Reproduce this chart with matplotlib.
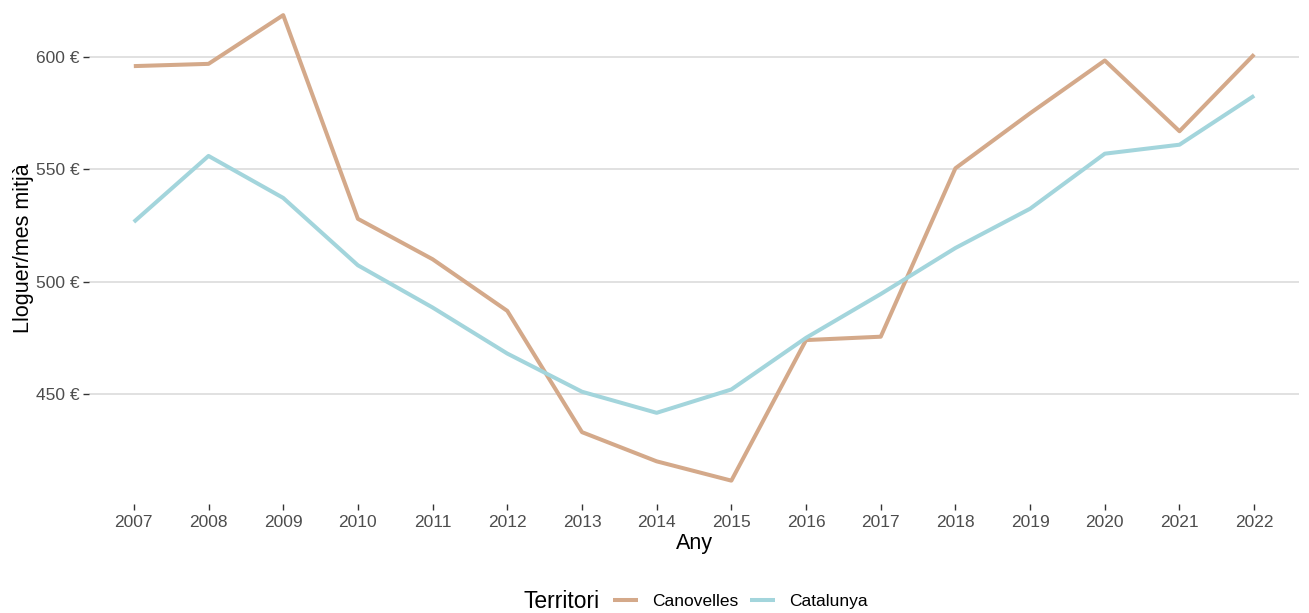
import matplotlib.pyplot as plt
from matplotlib.ticker import FuncFormatter

plt.rcParams['font.family'] = ['Liberation Sans', 'DejaVu Sans']

# data
anys = [2007, 2008, 2009, 2010, 2011, 2012, 2013, 2014,
        2015, 2016, 2017, 2018, 2019, 2020, 2021, 2022]
canovelles = [596, 597, 618.7, 528, 510, 487, 433, 420,
              411.4, 474, 475.5, 550.5, 575, 598.5, 567, 601.2]
catalunya = [526.6, 556, 537.3, 507.3, 488.5, 468, 451, 441.6,
             452, 475, 494.5, 515, 532.5, 557, 561, 582.8]
territoris = ['Canovelles', 'Catalunya']
colors = ['#D4A98A', '#A3D5DC']

W, H = 1309, 613
fig = plt.figure(figsize=(W / 100, H / 100), dpi=100)
ax = fig.add_axes([89 / W, (H - 504) / H, 1210 / W, 512 / H])

for name, vals, c in zip(territoris, [canovelles, catalunya], colors):
    ax.plot(anys, vals, color=c, lw=2.9, label=name, solid_capstyle='butt')

ax.set_xlim(anys[0] - 0.6, anys[-1] + 0.6)
ax.set_ylim(401, 629)
ax.set_xticks(anys)
ax.set_yticks([450, 500, 550, 600])
ax.yaxis.set_major_formatter(FuncFormatter(lambda v, p: f"{v:.0f} €"))

ax.grid(axis='y', color='#D9D9D9', lw=1.1)
ax.set_axisbelow(True)
for s in ax.spines.values():
    s.set_visible(False)
ax.tick_params(axis='both', colors='#333333', labelcolor='#4D4D4D',
               labelsize=12.5, length=4, width=1)
ax.tick_params(axis='x', pad=4)
ax.tick_params(axis='y', pad=3)

ax.set_xlabel('Any', fontsize=15.5, labelpad=2)
ax.set_ylabel('Lloguer/mes mitjà', fontsize=15.5, labelpad=1)

fig.text(523 / W, 1 - 601 / H, 'Territori', fontsize=16.5, va='center', ha='left')
handles, labels = ax.get_legend_handles_labels()
fig.legend(handles, labels, loc='center left', bbox_to_anchor=(597 / W, 1 - 601 / H),
           ncol=2, frameon=False, fontsize=12.5, handlelength=1.45,
           handletextpad=0.8, columnspacing=0.7)

fig.savefig('out.png', dpi=100)
